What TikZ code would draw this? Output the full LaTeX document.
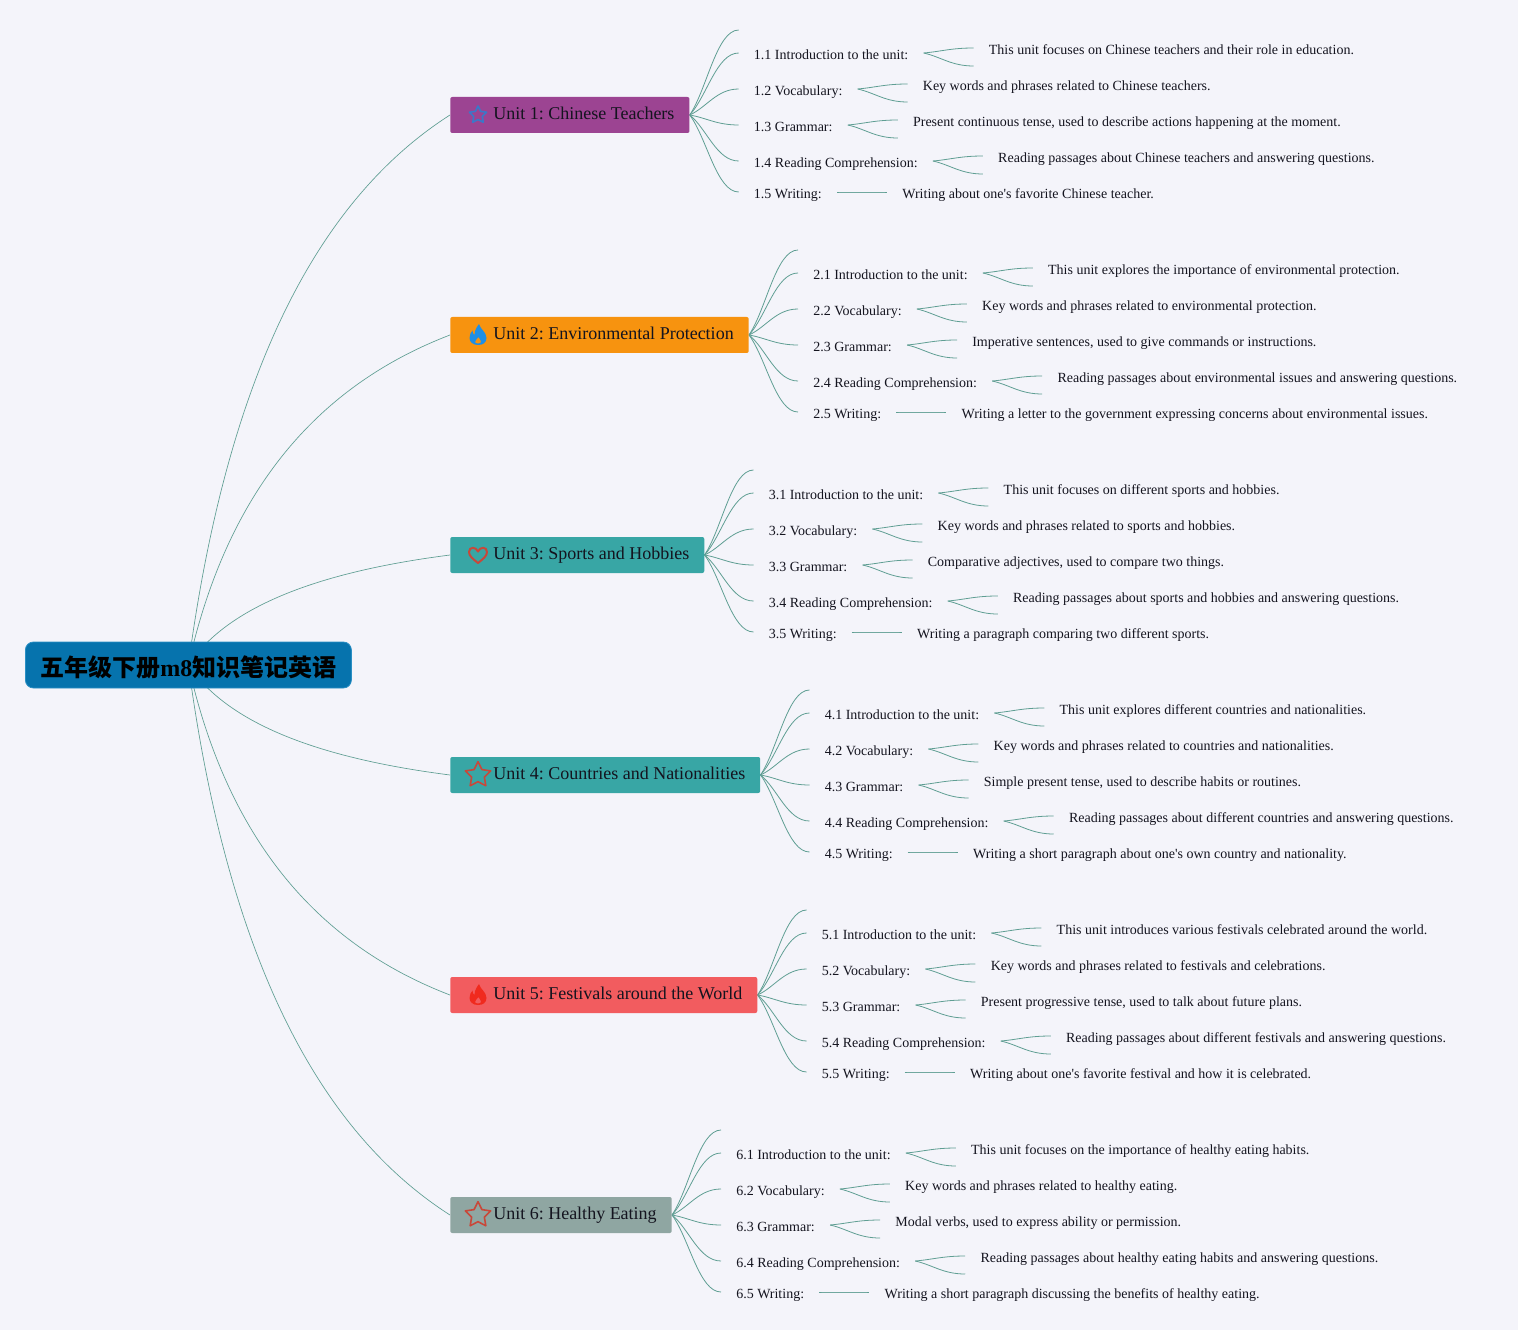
\documentclass[tikz,border=0pt]{standalone}
\usepackage{fontspec}
\setmainfont{Liberation Serif}[Ligatures=TeXOff]
\newfontfamily\cjk{Noto Sans CJK SC}
\usetikzlibrary{calc,backgrounds,shapes.geometric}
\frenchspacing
\definecolor{pagebg}{HTML}{F4F4FA}
\definecolor{linkc}{HTML}{5F9E93}
\definecolor{inkc}{HTML}{14141F}
\definecolor{rootc}{HTML}{0673AD}
\definecolor{rootline}{HTML}{2A8FC4}
\definecolor{purplec}{HTML}{9C4492}
\definecolor{orangec}{HTML}{F7930F}
\definecolor{tealc}{HTML}{38A6A5}
\definecolor{redc}{HTML}{F25C5F}
\definecolor{grayc}{HTML}{8FA6A2}
\definecolor{iconblue}{HTML}{3A78C8}
\definecolor{flameblue}{HTML}{1E8FE6}
\definecolor{iconred}{HTML}{C8483A}
\definecolor{flamered}{HTML}{F02A1E}
\tikzset{
  bow/.style n args={4}{to path={let \p1=(\tikztostart),\p2=(\tikztotarget) in
    .. controls (\x1+#1*\x2-#1*\x1,\y1+#2*\y2-#2*\y1) and (\x1+#3*\x2-#3*\x1,\y1+#4*\y2-#4*\y1) .. (\tikztotarget)}},
  stem/.style={draw=linkc,line width=.5pt,bow={.16}{.57}{.54}{.86}},
  twig/.style={draw=linkc,line width=.6pt,bow={.35}{.3}{.55}{1}},
  rootbox/.style={rectangle,rounded corners=6pt,fill=rootc,draw=rootline,line width=.6pt,minimum height=34.5pt,
    inner xsep=11.25pt,inner ysep=0pt,anchor=west,text=black,font=\fontsize{18}{22}\selectfont\bfseries,
    text height=18pt,text depth=1.5pt},
  unitbox/.style={rectangle,rounded corners=1.5pt,minimum height=27pt,inner xsep=11.25pt,inner ysep=0pt,anchor=west,
    text=inkc,font=\fontsize{13.5}{16}\selectfont,text height=9.5pt,text depth=2.5pt},
  leaf/.style={inner sep=0pt,anchor=west,text=inkc,font=\fontsize{10.5}{12}\selectfont,text height=7.5pt,text depth=2.5pt},
  staricon/.style={star,star points=5,star point ratio=2,draw=#1,line width=1.2pt,line join=round,inner sep=0pt},
}
\newcommand{\starmark}[2]{\node[staricon=#2,minimum size=#1] (ic\i) at (0,0) {};}
\newcommand{\heartmark}[1]{\draw[#1,line width=1.5pt,line join=round] (0,8) .. controls (-5,4) and (-9,1) .. (-9,-3)
  .. controls (-9,-8.5) and (-2,-8.5) .. (0,-3.5) .. controls (2,-8.5) and (9,-8.5) .. (9,-3)
  .. controls (9,1) and (5,4) .. (0,8) -- cycle;}
\newcommand{\flamemark}[1]{\fill[#1,even odd rule] (1,-11) .. controls (2,-6) and (8.5,-3) .. (8.5,3)
  .. controls (8.5,7.5) and (5,10) .. (0,10) .. controls (-5,10) and (-8.5,7) .. (-8.5,3)
  .. controls (-8.5,0) and (-7,-3) .. (-5.5,-4.5) .. controls (-5.5,-2.5) and (-5,-1) .. (-3.5,0)
  .. controls (-3.5,-5) and (-1,-8) .. (1,-11) -- cycle
  (0.5,2) .. controls (1.5,4.5) and (3.5,5.5) .. (3,7) .. controls (2.5,9) and (-2.5,9) .. (-3,7)
  .. controls (-3.3,5.5) and (-1,4.5) .. (0.5,2) -- cycle;}
\begin{document}
\begin{tikzpicture}[x=.75pt,y=-.75pt]
  \useasboundingbox (0,0) rectangle (1518,1330);
  \begin{scope}[on background layer]
    \fill[pagebg] (0,0) rectangle (1518,1330);
  \end{scope}
  \node[rootbox] (root) at (25,665) {\cjk 五年级下册\rmfamily m8\cjk 知识笔记英语};
  \foreach \i/\cy/\title/\ufill/\ico/\dsc in {
    1/115/{Unit 1: Chinese Teachers}/purplec/{\starmark{13.5pt}{iconblue}}/{
      {This unit focuses on Chinese teachers and their role in education.},
      {Key words and phrases related to Chinese teachers.},
      {Present continuous tense, used to describe actions happening at the moment.},
      {Reading passages about Chinese teachers and answering questions.},
      {Writing about one's favorite Chinese teacher.}},
    2/335/{Unit 2: Environmental Protection}/orangec/{\flamemark{flameblue}}/{
      {This unit explores the importance of environmental protection.},
      {Key words and phrases related to environmental protection.},
      {Imperative sentences, used to give commands or instructions.},
      {Reading passages about environmental issues and answering questions.},
      {Writing a letter to the government expressing concerns about environmental issues.}},
    3/555/{Unit 3: Sports and Hobbies}/tealc/{\heartmark{draw=iconred}}/{
      {This unit focuses on different sports and hobbies.},
      {Key words and phrases related to sports and hobbies.},
      {Comparative adjectives, used to compare two things.},
      {Reading passages about sports and hobbies and answering questions.},
      {Writing a paragraph comparing two different sports.}},
    4/775/{Unit 4: Countries and Nationalities}/tealc/{\starmark{20pt}{iconred}}/{
      {This unit explores different countries and nationalities.},
      {Key words and phrases related to countries and nationalities.},
      {Simple present tense, used to describe habits or routines.},
      {Reading passages about different countries and answering questions.},
      {Writing a short paragraph about one's own country and nationality.}},
    5/995/{Unit 5: Festivals around the World}/redc/{\flamemark{flamered}}/{
      {This unit introduces various festivals celebrated around the world.},
      {Key words and phrases related to festivals and celebrations.},
      {Present progressive tense, used to talk about future plans.},
      {Reading passages about different festivals and answering questions.},
      {Writing about one's favorite festival and how it is celebrated.}},
    6/1215/{Unit 6: Healthy Eating}/grayc/{\starmark{20pt}{iconred}}/{
      {This unit focuses on the importance of healthy eating habits.},
      {Key words and phrases related to healthy eating.},
      {Modal verbs, used to express ability or permission.},
      {Reading passages about healthy eating habits and answering questions.},
      {Writing a short paragraph discussing the benefits of healthy eating.}}%
  } {
    \node[unitbox,fill=\ufill] (u\i) at (450,\cy) {\hspace*{21pt}\title};
    \begin{scope}[shift={(u\i.west)},shift={(28,0)}]
      \ico
    \end{scope}
    \coordinate (s\i) at ([shift={(49,-85)}]u\i.east);
    \begin{scope}[on background layer]
      \path[stem] (root.center) edge (u\i.west);
      \path[twig] (u\i.east) edge (s\i);
    \end{scope}
    \foreach \j/\off/\name/\hi/\lo in {
      1/-62/Introduction to the unit:/-5/13,
      2/-26/Vocabulary:/-5/13,
      3/10/Grammar:/-5/13,
      4/46/Reading Comprehension:/-5/13,
      5/77/Writing:/0/0} {
      \coordinate (e\i-\j) at ([shift={(49,\off)}]u\i.east);
      \node[leaf] (l\i-\j) at ([shift={(15,3)}]e\i-\j) {\i.\j\ \name};
      \coordinate (j\i-\j) at ([shift={(15,-3)}]l\i-\j.east);
      \coordinate (t\i-\j) at ([shift={(50,\hi)}]j\i-\j);
      \coordinate (b\i-\j) at ([shift={(50,\lo)}]j\i-\j);
      \begin{scope}[on background layer]
        \path[twig] (u\i.east) edge (e\i-\j);
        \path[twig] (j\i-\j) edge (t\i-\j)
                    (j\i-\j) edge (b\i-\j);
      \end{scope}
    }
    \foreach \dtxt [count=\j] in \dsc {
      \node[leaf] (d\i-\j) at ([shift={(15,3)}]t\i-\j) {\dtxt};
    }
  }
\end{tikzpicture}
\end{document}
